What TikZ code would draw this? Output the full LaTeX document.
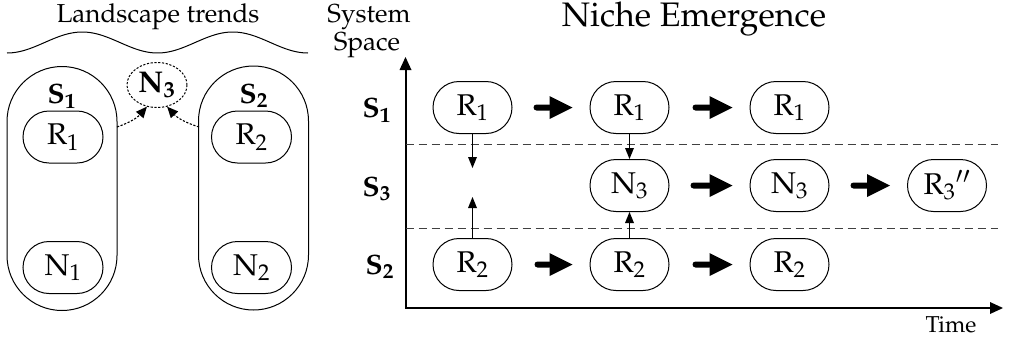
\documentclass[tikz,border=0pt]{standalone}
\usepackage[T1]{fontenc}
\usepackage{mathpazo}
\usetikzlibrary{arrows.meta,shapes.geometric,shapes.misc,calc}
\begin{document}
\begin{tikzpicture}[x=1pt,y=-1pt,
  pill/.style={draw,line width=1pt,rounded rectangle,minimum width=79pt,minimum height=52pt,inner sep=0pt,font=\fontsize{30}{34}\selectfont},
  container/.style={draw,line width=1pt,rounded rectangle,rotate=90,minimum width=244pt,minimum height=110pt,inner sep=0pt},
  slabel/.style={font=\fontsize{28}{32}\selectfont\bfseries},
  fat/.style={line width=6pt,line cap=round,-{Triangle[length=23pt,width=23pt,line width=0pt]}},
  thin/.style={line width=1.2pt,-{Triangle[length=11pt,width=9pt,line width=0pt]}},
  dotarrow/.style={line width=1.1pt,dash pattern=on 2.2pt off 1.6pt,-{Triangle[length=11pt,width=10pt,line width=0pt]}},
  axis/.style={line width=2pt,-{Triangle[length=13pt,width=12pt,line width=0pt]}},
  sep/.style={line width=1pt,draw=black!75,dash pattern=on 8pt off 5pt},
  txt/.style={inner sep=0pt}]
\useasboundingbox (0,0) rectangle (1010,338);
% ---------- left part ----------
\node[txt,font=\fontsize{26}{30}\selectfont] (land) at (158,17) {Landscape trends};
\draw[line width=1pt,domain=0:301,samples=120,smooth] plot ({7+\x},{42.5+10.5*cos(\x/150.5*360)});
\node[container] (S1box) at (62,188.5) {};
\node[container] (S2box) at (253.5,188) {};
\node[slabel] (S1l) at (62,96) {S$_{\mathbf 1}$};
\node[slabel] (S2l) at (254,96) {S$_{\mathbf 2}$};
\node[pill,minimum width=80pt] (LR1) at (63,137) {$\mathrm{R}_1$};
\node[pill,minimum width=80pt] (LN1) at (63,267.5) {$\mathrm{N}_1$};
\node[pill,minimum width=80pt] (LR2) at (251.5,137) {$\mathrm{R}_2$};
\node[pill,minimum width=80pt] (LN2) at (251.5,267.5) {$\mathrm{N}_2$};
\node[ellipse,draw,line width=1pt,dash pattern=on 2.2pt off 1.6pt,minimum width=60pt,minimum height=45pt,inner sep=0pt,font=\fontsize{30}{34}\selectfont\bfseries] (N3c) at (157,85) {N$_{\mathbf 3}$};
\coordinate (s1out) at ($(S1box.center)+(55,-61.5)$);
\coordinate (s2out) at ($(S2box.center)+(-54.5,-61)$);
\draw[dotarrow] (s1out) to[bend right=15] (N3c.245);
\draw[dotarrow] (s2out) to[bend left=15] (N3c.295);
% ---------- right part ----------
\node[txt,font=\fontsize{26}{30}\selectfont] (sys) at (369,17) {System};
\node[txt,font=\fontsize{26}{30}\selectfont] (spc) at (367,45) {Space};
\node[txt,font=\fontsize{34}{40}\selectfont] (title) at (694,19) {Niche Emergence};
\node[txt,font=\fontsize{23}{26}\selectfont] (time) at (951,325) {Time};
\coordinate (O) at (405.5,308);
\coordinate (Ytop) at (405.5,57);
\coordinate (Xend) at (1003,308);
\draw[axis] (O) -- (Ytop);
\draw[line width=2pt] (O) -- ++(-1,0);
\draw[axis] (O) -- (Xend);
\draw[sep] (405.5,144) -- (998,144);
\draw[sep] (405.5,228) -- (998,228);
\node[slabel] (RS1) at (377,110) {S$_{\mathbf 1}$};
\node[slabel] (RS3) at (377,189) {S$_{\mathbf 3}$};
\node[slabel] (RS2) at (380,267) {S$_{\mathbf 2}$};
\node[pill] (A1) at (472.5,107.5) {$\mathrm{R}_1$};
\node[pill] (B1) at (629.5,107.5) {$\mathrm{R}_1$};
\node[pill] (C1) at (789.5,107.5) {$\mathrm{R}_1$};
\node[pill] (B3) at (629.5,185.5) {$\mathrm{N}_3$};
\node[pill] (C3) at (789.5,185.5) {$\mathrm{N}_3$};
\node[pill] (D3) at (947,185.5) {$\mathrm{R}_3{}''$};
\node[pill] (A2) at (472.5,264.5) {$\mathrm{R}_2$};
\node[pill] (B2) at (629.5,264.5) {$\mathrm{R}_2$};
\node[pill] (C2) at (789.5,264.5) {$\mathrm{R}_2$};
\draw[fat,shorten <=24pt,shorten >=17pt] (A1) -- (B1);
\draw[fat,shorten <=26pt,shorten >=17pt] (B1) -- (C1);
\draw[fat,shorten <=24pt,shorten >=17pt] (B3) -- (C3);
\draw[fat,shorten <=24pt,shorten >=17pt] (C3) -- (D3);
\draw[fat,shorten <=25pt,shorten >=17pt] (A2) -- (B2);
\draw[fat,shorten <=26pt,shorten >=17pt] (B2) -- (C2);
\coordinate (dn) at (472.5,168);
\coordinate (up) at (472.5,197);
\draw[thin] (A1.south) -- (dn);
\draw[thin] (A2.north) -- (up);
\draw[thin] (B1.south) -- (B3.north);
\draw[thin] (B2.north) -- (B3.south);
\end{tikzpicture}
\end{document}
